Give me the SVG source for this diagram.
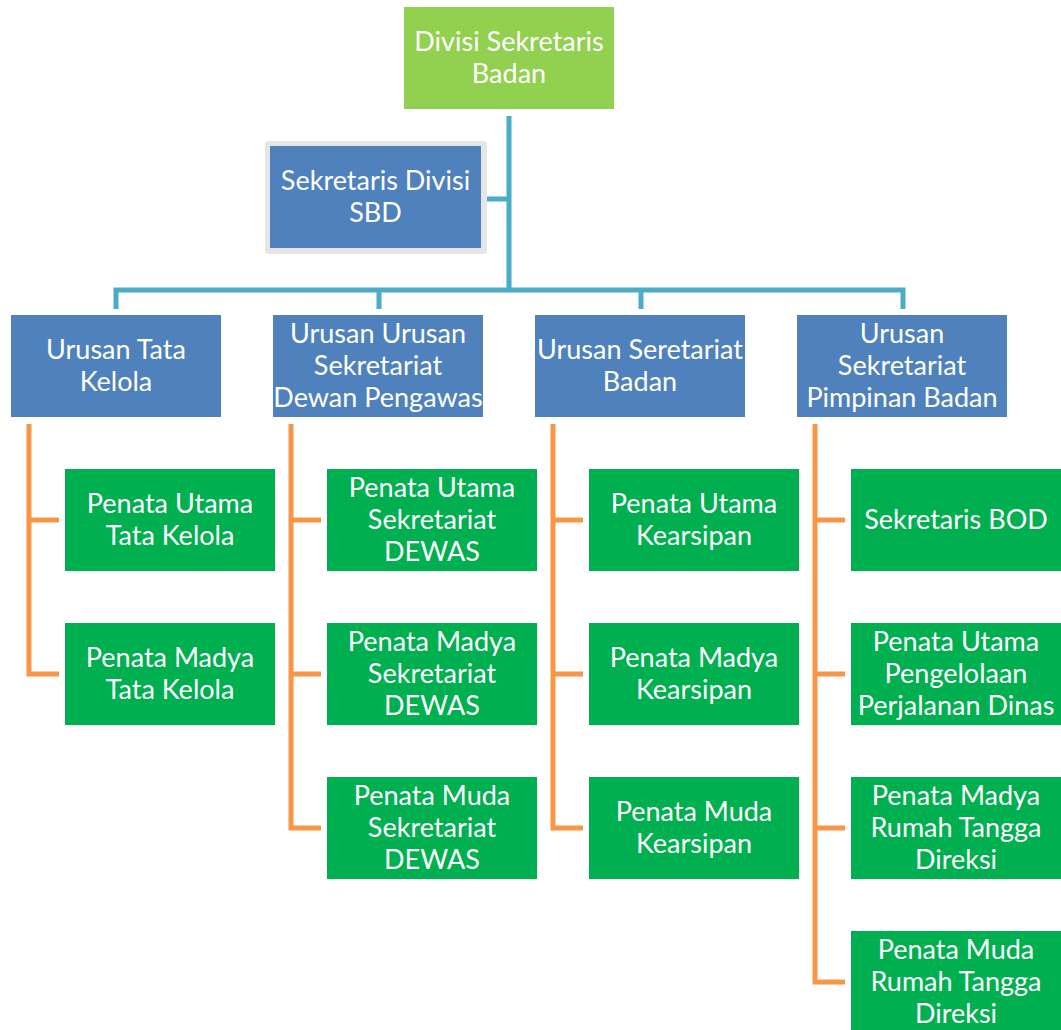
<svg xmlns="http://www.w3.org/2000/svg" width="1061" height="1030" viewBox="0 0 1061 1030">
<style>
.t{font-family:Lato,"Liberation Sans",sans-serif;font-size:27px;fill:#fff;text-anchor:middle}
.top{fill:#92D050}
.blue{fill:#4F81BD}
.green{fill:#00B050}
.tc{fill:none;stroke:#4BACC6;stroke-width:5}
.oc{fill:none;stroke:#F79646;stroke-width:5}
</style>
<rect width="1061" height="1030" fill="#fff"/>
<g id="connectors">
<path class="tc" d="M509 116V290M487 199H509M116 309V290H903V309M379 290V309M641 290V309"/>
<path class="oc" d="M29 424V674H59M29 520H59"/>
<path class="oc" d="M291 424V828H321M291 520H321M291 674H321"/>
<path class="oc" d="M553 424V828H583M553 520H583M553 674H583"/>
<path class="oc" d="M815 424V982H845M815 520H845M815 674H845M815 828H845"/>
</g>
<g id="n0"><rect class="top" x="404" y="7" width="210" height="102"/><text class="t" x="509" y="51">Divisi Sekretaris</text><text class="t" x="509" y="83">Badan</text></g>
<g id="n1"><rect x="265" y="141" width="222" height="113" rx="3" fill="#E6E6E6"/><rect class="blue" x="270" y="146" width="211" height="102"/><text class="t" x="375.5" y="190">Sekretaris Divisi</text><text class="t" x="375.5" y="222">SBD</text></g>
<g id="u1"><rect class="blue" x="11" y="315" width="210" height="102"/><text class="t" x="116" y="359">Urusan Tata</text><text class="t" x="116" y="391">Kelola</text></g>
<g id="u2"><rect class="blue" x="273" y="315" width="210" height="102"/><text class="t" x="378" y="343">Urusan Urusan</text><text class="t" x="378" y="375">Sekretariat</text><text class="t" x="378" y="407">Dewan Pengawas</text></g>
<g id="u3"><rect class="blue" x="535" y="315" width="210" height="102"/><text class="t" x="640" y="359">Urusan Seretariat</text><text class="t" x="640" y="391">Badan</text></g>
<g id="u4"><rect class="blue" x="797" y="315" width="210" height="102"/><text class="t" x="902" y="343">Urusan</text><text class="t" x="902" y="375">Sekretariat</text><text class="t" x="902" y="407">Pimpinan Badan</text></g>
<g id="c11"><rect class="green" x="65" y="469" width="210" height="102"/><text class="t" x="170" y="513">Penata Utama</text><text class="t" x="170" y="545">Tata Kelola</text></g>
<g id="c12"><rect class="green" x="65" y="623" width="210" height="102"/><text class="t" x="170" y="667">Penata Madya</text><text class="t" x="170" y="699">Tata Kelola</text></g>
<g id="c21"><rect class="green" x="327" y="469" width="210" height="102"/><text class="t" x="432" y="497">Penata Utama</text><text class="t" x="432" y="529">Sekretariat</text><text class="t" x="432" y="561">DEWAS</text></g>
<g id="c22"><rect class="green" x="327" y="623" width="210" height="102"/><text class="t" x="432" y="651">Penata Madya</text><text class="t" x="432" y="683">Sekretariat</text><text class="t" x="432" y="715">DEWAS</text></g>
<g id="c23"><rect class="green" x="327" y="777" width="210" height="102"/><text class="t" x="432" y="805">Penata Muda</text><text class="t" x="432" y="837">Sekretariat</text><text class="t" x="432" y="869">DEWAS</text></g>
<g id="c31"><rect class="green" x="589" y="469" width="210" height="102"/><text class="t" x="694" y="513">Penata Utama</text><text class="t" x="694" y="545">Kearsipan</text></g>
<g id="c32"><rect class="green" x="589" y="623" width="210" height="102"/><text class="t" x="694" y="667">Penata Madya</text><text class="t" x="694" y="699">Kearsipan</text></g>
<g id="c33"><rect class="green" x="589" y="777" width="210" height="102"/><text class="t" x="694" y="821">Penata Muda</text><text class="t" x="694" y="853">Kearsipan</text></g>
<g id="c41"><rect class="green" x="851" y="469" width="210" height="102"/><text class="t" x="956" y="529">Sekretaris BOD</text></g>
<g id="c42"><rect class="green" x="851" y="623" width="210" height="102"/><text class="t" x="956" y="651">Penata Utama</text><text class="t" x="956" y="683">Pengelolaan</text><text class="t" x="956" y="715">Perjalanan Dinas</text></g>
<g id="c43"><rect class="green" x="851" y="777" width="210" height="102"/><text class="t" x="956" y="805">Penata Madya</text><text class="t" x="956" y="837">Rumah Tangga</text><text class="t" x="956" y="869">Direksi</text></g>
<g id="c44"><rect class="green" x="851" y="931" width="210" height="102"/><text class="t" x="956" y="959">Penata Muda</text><text class="t" x="956" y="991">Rumah Tangga</text><text class="t" x="956" y="1023">Direksi</text></g>
</svg>
